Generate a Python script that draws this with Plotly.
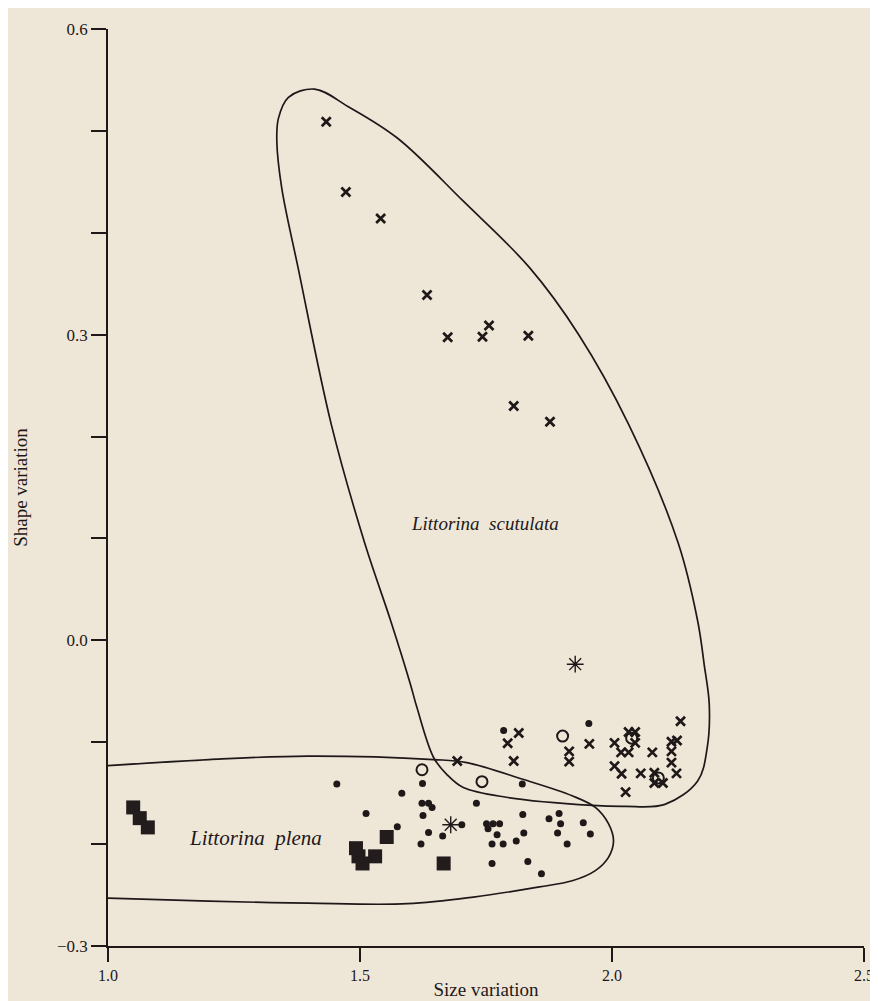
import plotly.graph_objects as go

# ---- data ----
cross_x = [1.433, 1.472, 1.541, 1.633, 1.674, 1.743, 1.756, 1.834, 1.805, 1.877,
           1.815, 1.793, 1.805, 1.693, 1.955, 1.915, 1.915,
           2.005, 2.033, 2.046, 2.046, 2.018, 2.033, 2.080, 2.118, 2.129, 2.136,
           2.118, 2.118, 2.128, 2.005, 2.019, 2.057, 2.084, 2.084, 2.101, 2.027]
cross_y = [0.509, 0.440, 0.414, 0.339, 0.2975, 0.298, 0.309, 0.299, 0.230, 0.2145,
           -0.091, -0.101, -0.1185, -0.1185, -0.1016, -0.109, -0.119,
           -0.1006, -0.090, -0.090, -0.1006, -0.110, -0.110, -0.110, -0.0996, -0.0983, -0.0794,
           -0.109, -0.120, -0.1306, -0.1235, -0.131, -0.1306, -0.130, -0.140, -0.140, -0.149]

ring_x = [1.902, 1.623, 1.742, 2.039, 2.092]
ring_y = [-0.094, -0.127, -0.1387, -0.096, -0.135]

dot_x = [1.954, 1.785, 1.454, 1.583, 1.624, 1.623, 1.636, 1.643, 1.625, 1.512,
         1.574, 1.636, 1.621, 1.664, 1.702, 1.731, 1.822, 1.751, 1.764, 1.777,
         1.754, 1.772, 1.762, 1.784, 1.810, 1.825, 1.823, 1.875, 1.895, 1.898,
         1.892, 1.911, 1.943, 1.957, 1.762, 1.833, 1.860]
dot_y = [-0.0817, -0.0885, -0.141, -0.150, -0.1406, -0.160, -0.160, -0.164, -0.172, -0.170,
         -0.183, -0.1885, -0.200, -0.192, -0.181, -0.160, -0.141, -0.180, -0.180, -0.180,
         -0.185, -0.1907, -0.200, -0.200, -0.197, -0.189, -0.171, -0.175, -0.170, -0.180,
         -0.189, -0.200, -0.179, -0.190, -0.219, -0.217, -0.229]

square_x = [1.050, 1.063, 1.079, 1.553, 1.666, 1.492, 1.497, 1.505, 1.530]
square_y = [-0.164, -0.1745, -0.1836, -0.193, -0.219, -0.204, -0.212, -0.219, -0.212]

star_x = [1.927, 1.680]
star_y = [-0.0234, -0.181]

# outline of L. scutulata group
scut_x = [1.410, 1.476, 1.574, 1.705, 1.836, 1.934, 2.033, 2.131, 2.170, 2.183, 2.193,
          2.189, 2.170, 2.105, 2.026, 1.961, 1.790, 1.705, 1.672, 1.646, 1.613, 1.600,
          1.561, 1.509, 1.443, 1.377, 1.345, 1.335, 1.338, 1.358, 1.410]
scut_y = [0.541, 0.524, 0.493, 0.431, 0.366, 0.300, 0.212, 0.096, 0.019, -0.024, -0.063,
          -0.105, -0.138, -0.161, -0.163, -0.162, -0.154, -0.1445, -0.1315, -0.115, -0.066, -0.043,
          0.019, 0.096, 0.212, 0.366, 0.443, 0.489, 0.512, 0.533, 0.541]

# outline of L. plena group (open at the y axis)
plena_x = [1.0, 1.2005, 1.397, 1.646, 1.712, 1.823, 1.921, 1.967, 1.993, 2.003, 1.993,
           1.967, 1.921, 1.856, 1.725, 1.594, 1.397, 1.2005, 1.0]
plena_y = [-0.123, -0.117, -0.1136, -0.117, -0.120, -0.1364, -0.1526, -0.164, -0.180, -0.197, -0.213,
           -0.226, -0.236, -0.242, -0.252, -0.2585, -0.258, -0.256, -0.253]

y_tickvals = [-0.3, -0.2, -0.1, 0.0, 0.1, 0.2, 0.3, 0.4, 0.5, 0.6]
y_ticktext = ["\u22120.3", "", "", "0.0", "", "", "0.3", "", "", "0.6"]
x_tickvals = [1.0, 1.5, 2.0, 2.5]
x_ticktext = ["1.0", "1.5", "2.0", "2.5"]

ink = "#1e1818"
bg = "#EEE7D8"
serif = "Liberation Serif, DejaVu Serif, serif"

fig = go.Figure()
fig.add_trace(go.Scatter(x=scut_x, y=scut_y, mode="lines", line=dict(color=ink, width=1.7, shape="spline", smoothing=1.0), hoverinfo="skip"))
fig.add_trace(go.Scatter(x=plena_x, y=plena_y, mode="lines", line=dict(color=ink, width=1.7, shape="spline", smoothing=1.0), hoverinfo="skip"))
fig.add_trace(go.Scatter(x=square_x, y=square_y, mode="markers", marker=dict(symbol="square", size=14, color="#231c1c")))
fig.add_trace(go.Scatter(x=dot_x, y=dot_y, mode="markers", marker=dict(symbol="circle", size=7, color=ink)))
fig.add_trace(go.Scatter(x=ring_x, y=ring_y, mode="markers", marker=dict(symbol="circle-open", size=11, color=ink, line=dict(width=2, color=ink))))
fig.add_trace(go.Scatter(x=cross_x, y=cross_y, mode="markers", marker=dict(symbol="x-thin", size=9, color=ink, line=dict(width=2.7, color=ink))))
fig.add_trace(go.Scatter(x=star_x, y=star_y, mode="markers", marker=dict(symbol="asterisk", size=14, color=ink, line=dict(width=1.4, color=ink))))

fig.add_annotation(x=1.748, y=0.115, text="<i>Littorina  scutulata</i>", showarrow=False,
                   font=dict(family=serif, size=19, color=ink))
fig.add_annotation(x=1.292, y=-0.194, text="<i>Littorina  plena</i>", showarrow=False,
                   font=dict(family=serif, size=21, color=ink))

fig.update_layout(
    width=878, height=1001,
    margin=dict(l=98, r=17, t=18, b=63),
    paper_bgcolor=bg, plot_bgcolor=bg,
    showlegend=False,
    font=dict(family=serif, size=17, color=ink),
)
fig.update_xaxes(range=[1.0, 2.5], tickvals=x_tickvals, ticktext=x_ticktext,
                 showline=True, linecolor=ink, linewidth=1.7, ticks="outside", ticklen=14,
                 tickwidth=1.7, tickcolor=ink, showgrid=False, zeroline=False,
                 title=dict(text="Size variation", font=dict(family=serif, size=19), standoff=0),
                 tickfont=dict(family=serif, size=16))
fig.update_yaxes(range=[-0.3, 0.6], tickvals=y_tickvals, ticktext=y_ticktext,
                 showline=True, linecolor=ink, linewidth=1.7, ticks="outside", ticklen=15,
                 tickwidth=1.7, tickcolor=ink, showgrid=False, zeroline=False,
                 title=dict(text="Shape variation", font=dict(family=serif, size=19), standoff=24),
                 tickfont=dict(family=serif, size=17))

fig.write_html("out.html")
